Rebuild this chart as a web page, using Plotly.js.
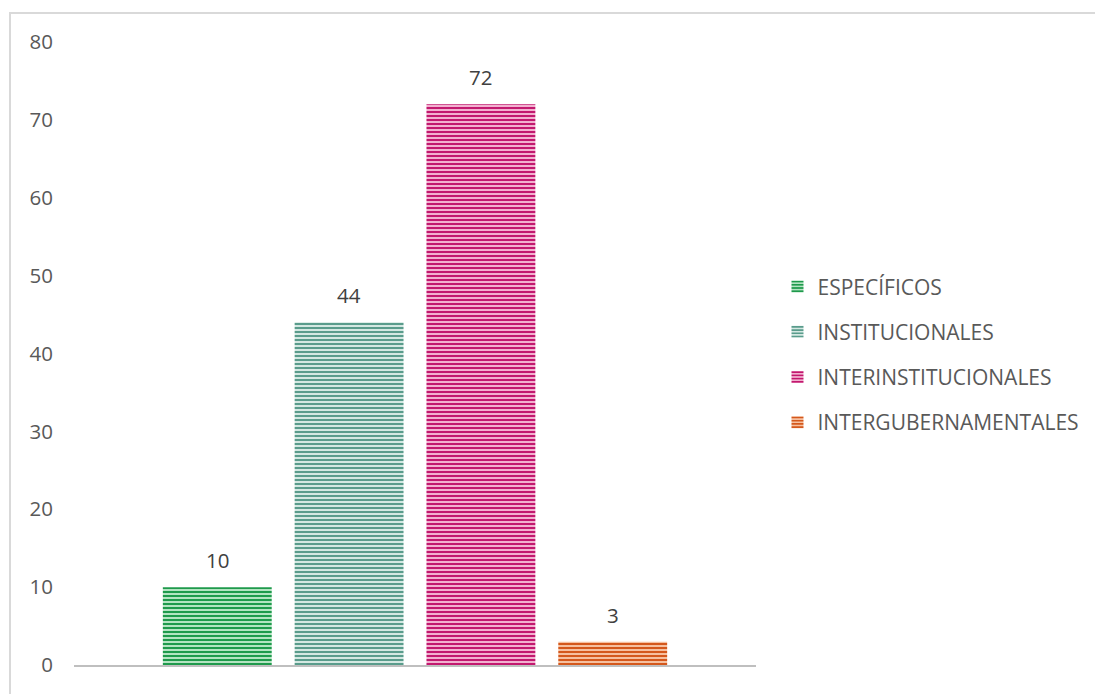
<!DOCTYPE html>
<html>
<head>
<meta charset="utf-8">
<script src="https://cdn.plot.ly/plotly-3.0.1.min.js"></script>
<style>
html,body{margin:0;padding:0;background:#fff;}
#wrap{position:relative;width:1095px;height:694px;overflow:hidden;}
#chart{width:1095px;height:694px;}
#frame{position:absolute;left:9px;top:12px;width:1100px;height:700px;border:2px solid #d9d9d9;pointer-events:none;box-sizing:border-box;}
</style>
</head>
<body>
<div id="wrap"><div id="chart"></div><div id="frame"></div></div>
<script>
const categories = ['ESPECÍFICOS', 'INSTITUCIONALES', 'INTERINSTITUCIONALES', 'INTERGUBERNAMENTALES'];
const values = [10, 44, 72, 3];
const positions = [0, 1, 2, 3];
const tickValues = [0, 10, 20, 30, 40, 50, 60, 70, 80];
const darkColors = ['#1f9a4c', '#5a9c8c', '#c2186f', '#d4581c'];
const lightColors = ['#b4e4c2', '#d4e8e2', '#f2b0cf', '#f6c0a0'];

const font = '"Open Sans", "Liberation Sans", sans-serif';

const traces = categories.map((c, i) => ({
  type: 'bar',
  name: c,
  x: [positions[i]],
  y: [values[i]],
  width: 0.826,
  legendgroup: 'g' + i,
  marker: {
    color: darkColors[i],
    line: {width: 0},
    pattern: {shape: '-', fgcolor: darkColors[i], bgcolor: lightColors[i], size: 4, solidity: 0.5, fillmode: 'replace'}
  },
  hoverinfo: 'skip'
}));

const annotations = categories.map((c, i) => ({
  x: positions[i], y: values[i], xref: 'x', yref: 'y',
  text: String(values[i]), showarrow: false,
  yanchor: 'middle', yshift: 27,
  font: {family: font, size: 20.5, color: '#404040'}
}));

const layout = {
  width: 1095, height: 694,
  margin: {l: 74, r: 338, t: 42, b: 28.5},
  paper_bgcolor: '#ffffff', plot_bgcolor: '#ffffff',
  barmode: 'overlay',
  showlegend: true,
  legend: {
    x: 1.03, xanchor: 'left', y: 0.498, yanchor: 'middle',
    font: {family: font, size: 21, color: '#595959'},
    tracegroupgap: 15, traceorder: 'grouped', itemwidth: 30
  },
  xaxis: {
    range: [-1.087, 4.087], showticklabels: false, ticks: '', showgrid: false, zeroline: false,
    showline: true, linecolor: '#bfbfbf', linewidth: 2, fixedrange: true
  },
  yaxis: {
    range: [0, 80], tickvals: tickValues, showgrid: false, zeroline: false, showline: false,
    ticks: '', ticklabelstandoff: 20,
    tickfont: {family: font, size: 20.5, color: '#595959'}, fixedrange: true
  },
  annotations: annotations
};

Plotly.newPlot('chart', traces, layout, {displayModeBar: false, staticPlot: true});
</script>
</body>
</html>
